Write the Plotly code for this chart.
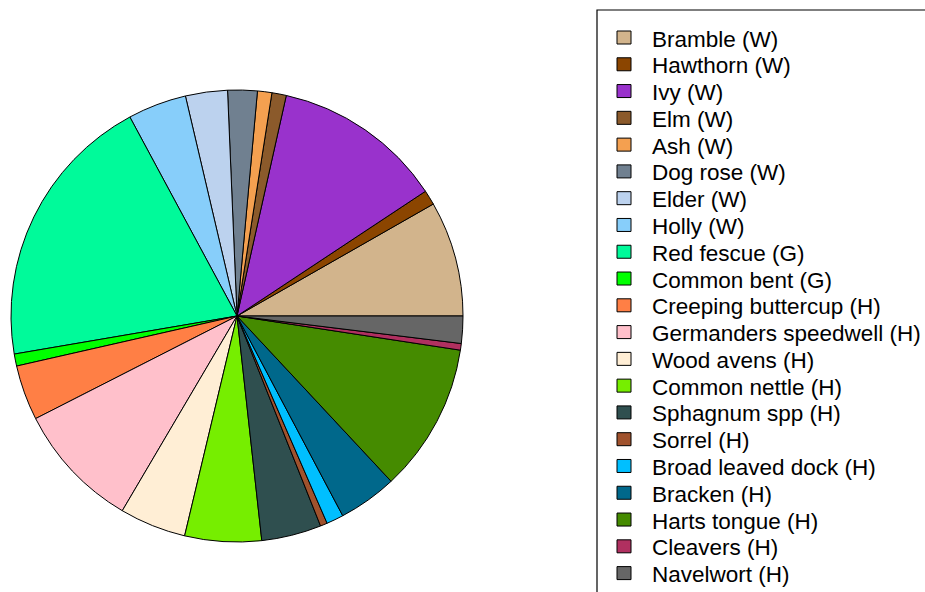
import plotly.graph_objects as go

labels = ["Bramble (W)", "Hawthorn (W)", "Ivy (W)", "Elm (W)", "Ash (W)", "Dog rose (W)",
          "Elder (W)", "Holly (W)", "Red fescue (G)", "Common bent (G)",
          "Creeping buttercup (H)", "Germanders speedwell (H)", "Wood avens (H)",
          "Common nettle (H)", "Sphagnum spp (H)", "Sorrel (H)", "Broad leaved dock (H)",
          "Bracken (H)", "Harts tongue (H)", "Cleavers (H)", "Navelwort (H)"]
values = [29.7, 3.8, 43.9, 3.7, 3.7, 7.6, 10.8, 15.1, 71.4, 3.1, 14.2, 32.5, 17.1,
          19.7, 15.4, 1.8, 4.4, 15.1, 38.3, 1.7, 7.0]
colors = ["#D2B48C", "#8B4500", "#9932CC", "#8B5A2B", "#F4A050", "#708090", "#BCD2EE",
          "#87CEFA", "#00FA9A", "#00FF00", "#FF7F45", "#FFC0CB", "#FFEED5", "#76EE00",
          "#2F4F4F", "#A0522D", "#00BFFF", "#00688B", "#458B00", "#B03060", "#666666"]

W, H = 925, 592
cx, cy, r = 237, 316, 226

first_share = values[0] / sum(values) * 360

fig = go.Figure(go.Pie(
    labels=labels, values=values, sort=False, direction="counterclockwise",
    rotation=90 - first_share, textinfo="none",
    marker=dict(colors=colors, line=dict(color="black", width=1)),
    domain=dict(x=[(cx - r) / W, (cx + r) / W], y=[(H - cy - r) / H, (H - cy + r) / H]),
    showlegend=False,
))

def px(x):
    return x / W

def py(y):
    return 1 - y / H

shapes = [dict(type="rect", xref="paper", yref="paper", x0=px(597), x1=px(960),
               y0=py(10), y1=py(640), line=dict(color="black", width=1.2),
               fillcolor="rgba(0,0,0,0)")]
annotations = []
y0, step = 37.5, 26.78
for i, (lab, col) in enumerate(zip(labels, colors)):
    yc = y0 + i * step
    shapes.append(dict(type="rect", xref="paper", yref="paper",
                       x0=px(617), x1=px(631), y0=py(yc - 6.5), y1=py(yc + 6.5),
                       line=dict(color="black", width=1), fillcolor=col))
    annotations.append(dict(xref="paper", yref="paper", x=px(650), y=py(yc + 1.5),
                            xanchor="left", yanchor="middle", text=lab, showarrow=False,
                            font=dict(family="Liberation Sans, Arial", size=22.5, color="black")))

fig.update_layout(width=W, height=H, margin=dict(l=0, r=0, t=0, b=0),
                  paper_bgcolor="white", plot_bgcolor="white",
                  shapes=shapes, annotations=annotations)
fig.write_html("out.html", config={"displayModeBar": False},
               post_script="document.body.style.margin='0';document.body.style.overflow='hidden';")
